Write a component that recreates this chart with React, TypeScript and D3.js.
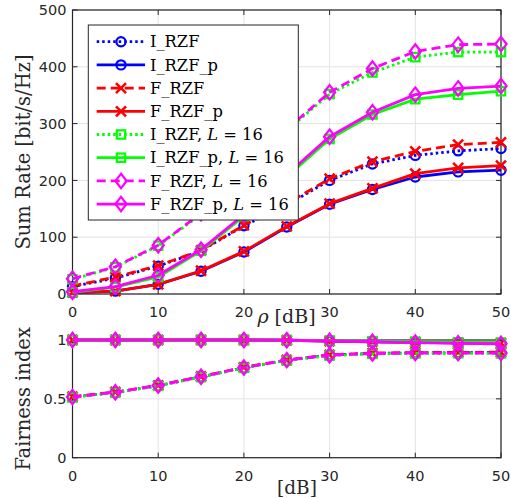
import React from 'react';
import * as d3 from 'd3';

// ---------- data ----------
const rho = [0, 5, 10, 15, 20, 25, 30, 35, 40, 45, 50];
const seriesLabels = [
  'I_RZF',
  'I_RZF_p',
  'F_RZF',
  'F_RZF_p',
  'I_RZF, L = 16',
  'I_RZF_p, L = 16',
  'F_RZF, L = 16',
  'F_RZF_p, L = 16',
];
// Sum rate [bit/s/Hz]
const rateIRZF = [13, 28, 49, 76, 120, 157, 200, 229, 244, 252, 256];
const rateIRZFp = [2, 5, 17, 40, 74, 118, 158, 184, 206, 215, 218];
const rateFRZF = [14, 30, 50, 77, 121, 159, 203, 233, 251, 263, 267];
const rateFRZFp = [3, 5, 17, 41, 75, 119, 159, 186, 212, 222, 226];
const rateIRZF16 = [26, 47, 85, 140, 213, 288, 352, 390, 417, 426, 426];
const rateIRZFp16 = [3, 12, 30, 76, 137, 206, 273, 316, 343, 351, 357];
const rateFRZF16 = [27, 48, 86, 142, 215, 290, 355, 397, 427, 439, 440];
const rateFRZFp16 = [4, 13, 33, 78, 140, 210, 277, 320, 351, 362, 366];
// Fairness index
const fairIRZF = [0.515, 0.555, 0.612, 0.687, 0.765, 0.828, 0.872, 0.886, 0.89, 0.892, 0.892];
const fairIRZFp = [1, 1, 1, 1, 1, 0.998, 0.99, 0.985, 0.98, 0.975, 0.97];
const fairFRZF = [0.518, 0.558, 0.615, 0.69, 0.768, 0.83, 0.874, 0.889, 0.893, 0.895, 0.896];
const fairFRZFp = [1, 1, 1, 1, 1, 0.998, 0.99, 0.986, 0.982, 0.977, 0.973];
const fairIRZF16 = [0.512, 0.553, 0.61, 0.685, 0.763, 0.826, 0.868, 0.882, 0.886, 0.887, 0.886];
const fairIRZFp16 = [1, 1, 1, 1, 1, 0.999, 0.995, 0.99, 0.985, 0.98, 0.978];
const fairFRZF16 = [0.515, 0.556, 0.613, 0.688, 0.766, 0.829, 0.871, 0.885, 0.889, 0.889, 0.889];
const fairFRZFp16 = [1, 1, 1, 1, 1, 0.998, 0.993, 0.985, 0.978, 0.972, 0.968];

const xTicks = [0, 10, 20, 30, 40, 50];
const rateTicks = [0, 100, 200, 300, 400, 500];
const fairTicks = [0, 0.5, 1];
const fairTickLabels = ['0', '0.5', '1'];

const rateSeries = [rateIRZF, rateIRZFp, rateFRZF, rateFRZFp, rateIRZF16, rateIRZFp16, rateFRZF16, rateFRZFp16];
const fairSeries = [fairIRZF, fairIRZFp, fairFRZF, fairFRZFp, fairIRZF16, fairIRZFp16, fairFRZF16, fairFRZFp16];

// ---------- styles ----------
type Sty = { color: string; dash: string; marker: string };
const styles: Sty[] = [
  { color: '#0000ff', dash: '2.5 3', marker: 'circle' },
  { color: '#0000ff', dash: '', marker: 'circle' },
  { color: '#ff0000', dash: '9 5', marker: 'x' },
  { color: '#ff0000', dash: '', marker: 'x' },
  { color: '#00ff00', dash: '2.5 3', marker: 'square' },
  { color: '#00ff00', dash: '', marker: 'square' },
  { color: '#ff00ff', dash: '9 5', marker: 'diamond' },
  { color: '#ff00ff', dash: '', marker: 'diamond' },
];

const W = 511;
const H = 498;
const L = 72.5;
const R = 501;
const top1 = 10;
const bot1 = 294;
const top2 = 340;
const bot2 = 457.7;
const AX = '#262626';
const GRID = '#e3e3e3';
const LW = 2.8;
const MW = 2.2;

function Marker({ kind, x, y, color }: { kind: string; x: number; y: number; color: string }) {
  const common = { fill: 'none', stroke: color, strokeWidth: MW };
  if (kind === 'circle') return <circle cx={x} cy={y} r={4.6} {...common} />;
  if (kind === 'x') {
    const s = 5;
    return <path d={`M${x - s},${y - s}L${x + s},${y + s}M${x - s},${y + s}L${x + s},${y - s}`} {...common} strokeWidth={2.6} />;
  }
  if (kind === 'square') {
    const s = 4.2;
    return <rect x={x - s} y={y - s} width={2 * s} height={2 * s} {...common} />;
  }
  const w = 5.6;
  const h = 7.2;
  return <path d={`M${x},${y - h}L${x + w},${y}L${x},${y + h}L${x - w},${y}Z`} {...common} />;
}

function Panel({
  yScale,
  data,
  yTicks,
  yTickLabels,
  top,
  bottom,
}: {
  yScale: d3.ScaleLinear<number, number>;
  data: number[][];
  yTicks: number[];
  yTickLabels: string[];
  top: number;
  bottom: number;
}) {
  const x = d3.scaleLinear().domain([0, 50]).range([L, R]);
  const line = d3
    .line<number>()
    .x((_, i) => x(rho[i]))
    .y((d) => yScale(d));
  const tl = 5;
  return (
    <g>
      {xTicks.map((t) => (
        <line key={'gx' + t} x1={x(t)} x2={x(t)} y1={top} y2={bottom} stroke={GRID} strokeWidth={1} />
      ))}
      {yTicks.map((t) => (
        <line key={'gy' + t} x1={L} x2={R} y1={yScale(t)} y2={yScale(t)} stroke={GRID} strokeWidth={1} />
      ))}
      <rect x={L} y={top} width={R - L} height={bottom - top} fill="none" stroke={AX} strokeWidth={1.2} />
      {xTicks.map((t) => (
        <g key={'tx' + t}>
          <line x1={x(t)} x2={x(t)} y1={bottom} y2={bottom - tl} stroke={AX} strokeWidth={1} />
          <line x1={x(t)} x2={x(t)} y1={top} y2={top + tl} stroke={AX} strokeWidth={1} />
          <text
            x={x(t)}
            y={bottom + 23}
            textAnchor="middle"
            fontFamily="DejaVu Sans"
            fontSize={14.5}
            fill={AX}
          >
            {t}
          </text>
        </g>
      ))}
      {yTicks.map((t, i) => (
        <g key={'ty' + t}>
          <line x1={L} x2={L + tl} y1={yScale(t)} y2={yScale(t)} stroke={AX} strokeWidth={1} />
          <line x1={R} x2={R - tl} y1={yScale(t)} y2={yScale(t)} stroke={AX} strokeWidth={1} />
          <text
            x={L - 6}
            y={yScale(t)}
            dy="0.36em"
            textAnchor="end"
            fontFamily="DejaVu Sans"
            fontSize={14.5}
            fill={AX}
          >
            {yTickLabels[i]}
          </text>
        </g>
      ))}
      {data.map((d, si) => {
        const st = styles[si];
        return (
          <g key={'s' + si}>
            <path
              d={line(d) || ''}
              fill="none"
              stroke={st.color}
              strokeWidth={LW}
              strokeDasharray={st.dash || undefined}
              strokeLinejoin="round"
            />
            {d.map((v, i) => (
              <Marker key={i} kind={st.marker} x={x(rho[i])} y={yScale(v)} color={st.color} />
            ))}
          </g>
        );
      })}
    </g>
  );
}

function LegendLabel({ text, x, y }: { text: string; x: number; y: number }) {
  const m = text.match(/^(.*), L = (\d+)$/);
  return (
    <text x={x} y={y} dy="0.35em" fontFamily="DejaVu Serif" fontSize={16.3} fill="#000">
      {m ? (
        <>
          {m[1]},{' '}
          <tspan fontStyle="italic">L</tspan>
          {' = '}
          {m[2]}
        </>
      ) : (
        text
      )}
    </text>
  );
}

export default function App() {
  const y1 = d3.scaleLinear().domain([0, 500]).range([bot1, top1]);
  const y2 = d3.scaleLinear().domain([0, 1]).range([bot2, top2]);
  const legX = 88.3;
  const legY = 25;
  const legW = 210;
  const legH = 195;
  const row0 = 41.7;
  const rowH = 23.2;
  return (
    <svg width={W} height={H} style={{ position: 'absolute', left: 0, top: 0, background: '#fff' }}>
      <rect x={0} y={0} width={W} height={H} fill="#fff" />
      <Panel
        yScale={y1}
        data={rateSeries}
        yTicks={rateTicks}
        yTickLabels={rateTicks.map(String)}
        top={top1}
        bottom={bot1}
      />
      <Panel yScale={y2} data={fairSeries} yTicks={fairTicks} yTickLabels={fairTickLabels} top={top2} bottom={bot2} />

      {/* legend */}
      <rect x={legX} y={legY} width={legW} height={legH} fill="#fff" stroke={AX} strokeWidth={1} />
      {seriesLabels.map((lab, i) => {
        const st = styles[i];
        const yy = row0 + i * rowH;
        return (
          <g key={'lg' + i}>
            <line
              x1={96.7}
              x2={145}
              y1={yy}
              y2={yy}
              stroke={st.color}
              strokeWidth={LW}
              strokeDasharray={st.dash || undefined}
            />
            <Marker kind={st.marker} x={121} y={yy} color={st.color} />
            <LegendLabel text={lab} x={150} y={yy} />
          </g>
        );
      })}

      {/* axis labels */}
      <text x={286.5} y={323} textAnchor="middle" fontFamily="DejaVu Serif" fontSize={19} fill="#262626">
        <tspan fontStyle="italic">ρ</tspan> [dB]
      </text>
      <text x={277} y={494} fontFamily="DejaVu Serif" fontSize={18.5} fill="#262626">
        [dB]
      </text>
      <text
        transform={`translate(30,${(top1 + bot1) / 2}) rotate(-90)`}
        textAnchor="middle"
        fontFamily="DejaVu Serif"
        fontSize={19.5}
        fill="#262626"
      >
        Sum Rate [bit/s/Hz]
      </text>
      <text
        transform={`translate(30,${(top2 + bot2) / 2}) rotate(-90)`}
        textAnchor="middle"
        fontFamily="DejaVu Serif"
        fontSize={19.5}
        fill="#262626"
      >
        Fairness index
      </text>
    </svg>
  );
}
